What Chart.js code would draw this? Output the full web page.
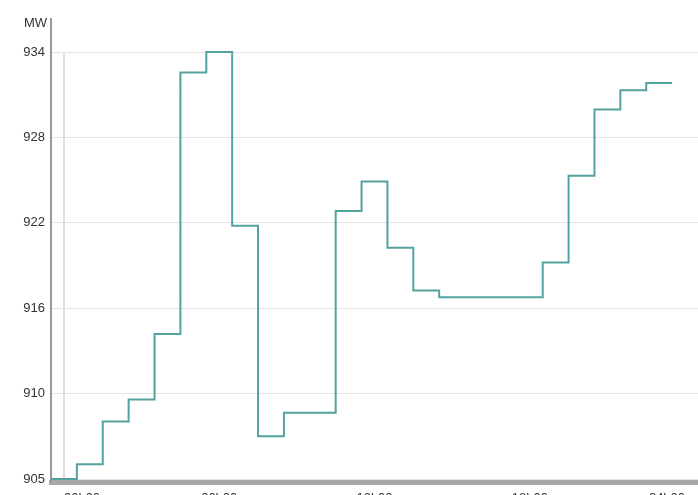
<!DOCTYPE html>
<html>
<head>
<meta charset="utf-8">
<script src="https://cdn.jsdelivr.net/npm/chart.js@4/dist/chart.umd.min.js"></script>
<style>html,body{margin:0;padding:0;overflow:hidden;background:#fff}</style>
</head>
<body>
<canvas id="c" width="698" height="510"></canvas>
<script>
// hourly load, one value per hour
const hours = [0,1,2,3,4,5,6,7,8,9,10,11,12,13,14,15,16,17,18,19,20,21,22,23];
const mw = [905.0,906.0,908.9,910.4,914.85,932.6,934.0,922.2,907.9,909.5,909.5,923.2,
            925.2,920.7,917.8,917.35,917.35,917.35,917.35,919.7,925.6,930.1,931.4,931.9];
const xTickHours = [0,6,12,18,24];
const xTickLabels = ['00h00','06h00','12h00','18h00','24h00'];
const yTickValues = [905,910.8,916.6,922.4,928.2,934];
const yTickLabels = ['905','910','916','922','928','934'];
const unitLabel = 'MW';

// each hour is a flat block from h-0.5 to h+0.5
const points = hours.map((h,i) => ({x:h, y:mw[i]}));
points.unshift({x:hours[0]-0.5, y:mw[0]});
points.push({x:hours[hours.length-1]+0.5, y:mw[mw.length-1]});

const font = {family:'"Liberation Sans", Arial, sans-serif', size:13};

const extras = {
  id:'extras',
  afterDraw(chart){
    const {ctx, chartArea} = chart;
    ctx.save();
    ctx.strokeStyle = '#999';
    ctx.lineWidth = 2;
    ctx.beginPath();
    ctx.moveTo(chartArea.left, 18);
    ctx.lineTo(chartArea.left, chartArea.top);
    ctx.stroke();
    ctx.fillStyle = '#333';
    ctx.font = '13px "Liberation Sans", Arial, sans-serif';
    ctx.textAlign = 'right';
    ctx.textBaseline = 'middle';
    ctx.fillText(unitLabel, chartArea.left - 4, 23);
    ctx.restore();
  }
};

new Chart(document.getElementById('c'), {
  type:'line',
  data:{datasets:[{data:points, borderColor:'#52a3a0', borderWidth:2, stepped:'middle',
                   pointRadius:0, fill:false, clip:4}]},
  options:{
    responsive:false, animation:false, devicePixelRatio:1,
    layout:{padding:{top:52, right:0, left:0, bottom:0}},
    plugins:{legend:{display:false}, tooltip:{enabled:false}},
    scales:{
      x:{type:'linear', min:-0.5, max:24.5,
        afterBuildTicks:s => { s.ticks = xTickHours.map(v => ({value:v})); },
        afterFit:s => { s.height = 28; },
        grid:{drawTicks:false, lineWidth:2,
              color:c => (c.tick && c.tick.value === 0) ? '#dedede' : 'rgba(0,0,0,0)'},
        border:{color:'#a8a8a8', width:5},
        ticks:{align:'inner', padding:9, maxRotation:0, autoSkip:false, color:'#333', font,
               callback:(v,i) => xTickLabels[i]}
      },
      y:{min:904.8, max:934,
        afterBuildTicks:s => { s.ticks = yTickValues.map(v => ({value:v})); },
        afterFit:s => { s.width = 51; },
        grid:{drawTicks:false, color:'#e4e4e4', lineWidth:1},
        border:{color:'#999', width:2},
        ticks:{padding:6, color:'#333', font, callback:(v,i) => yTickLabels[i]}
      }
    }
  },
  plugins:[extras]
});
</script>
</body>
</html>
